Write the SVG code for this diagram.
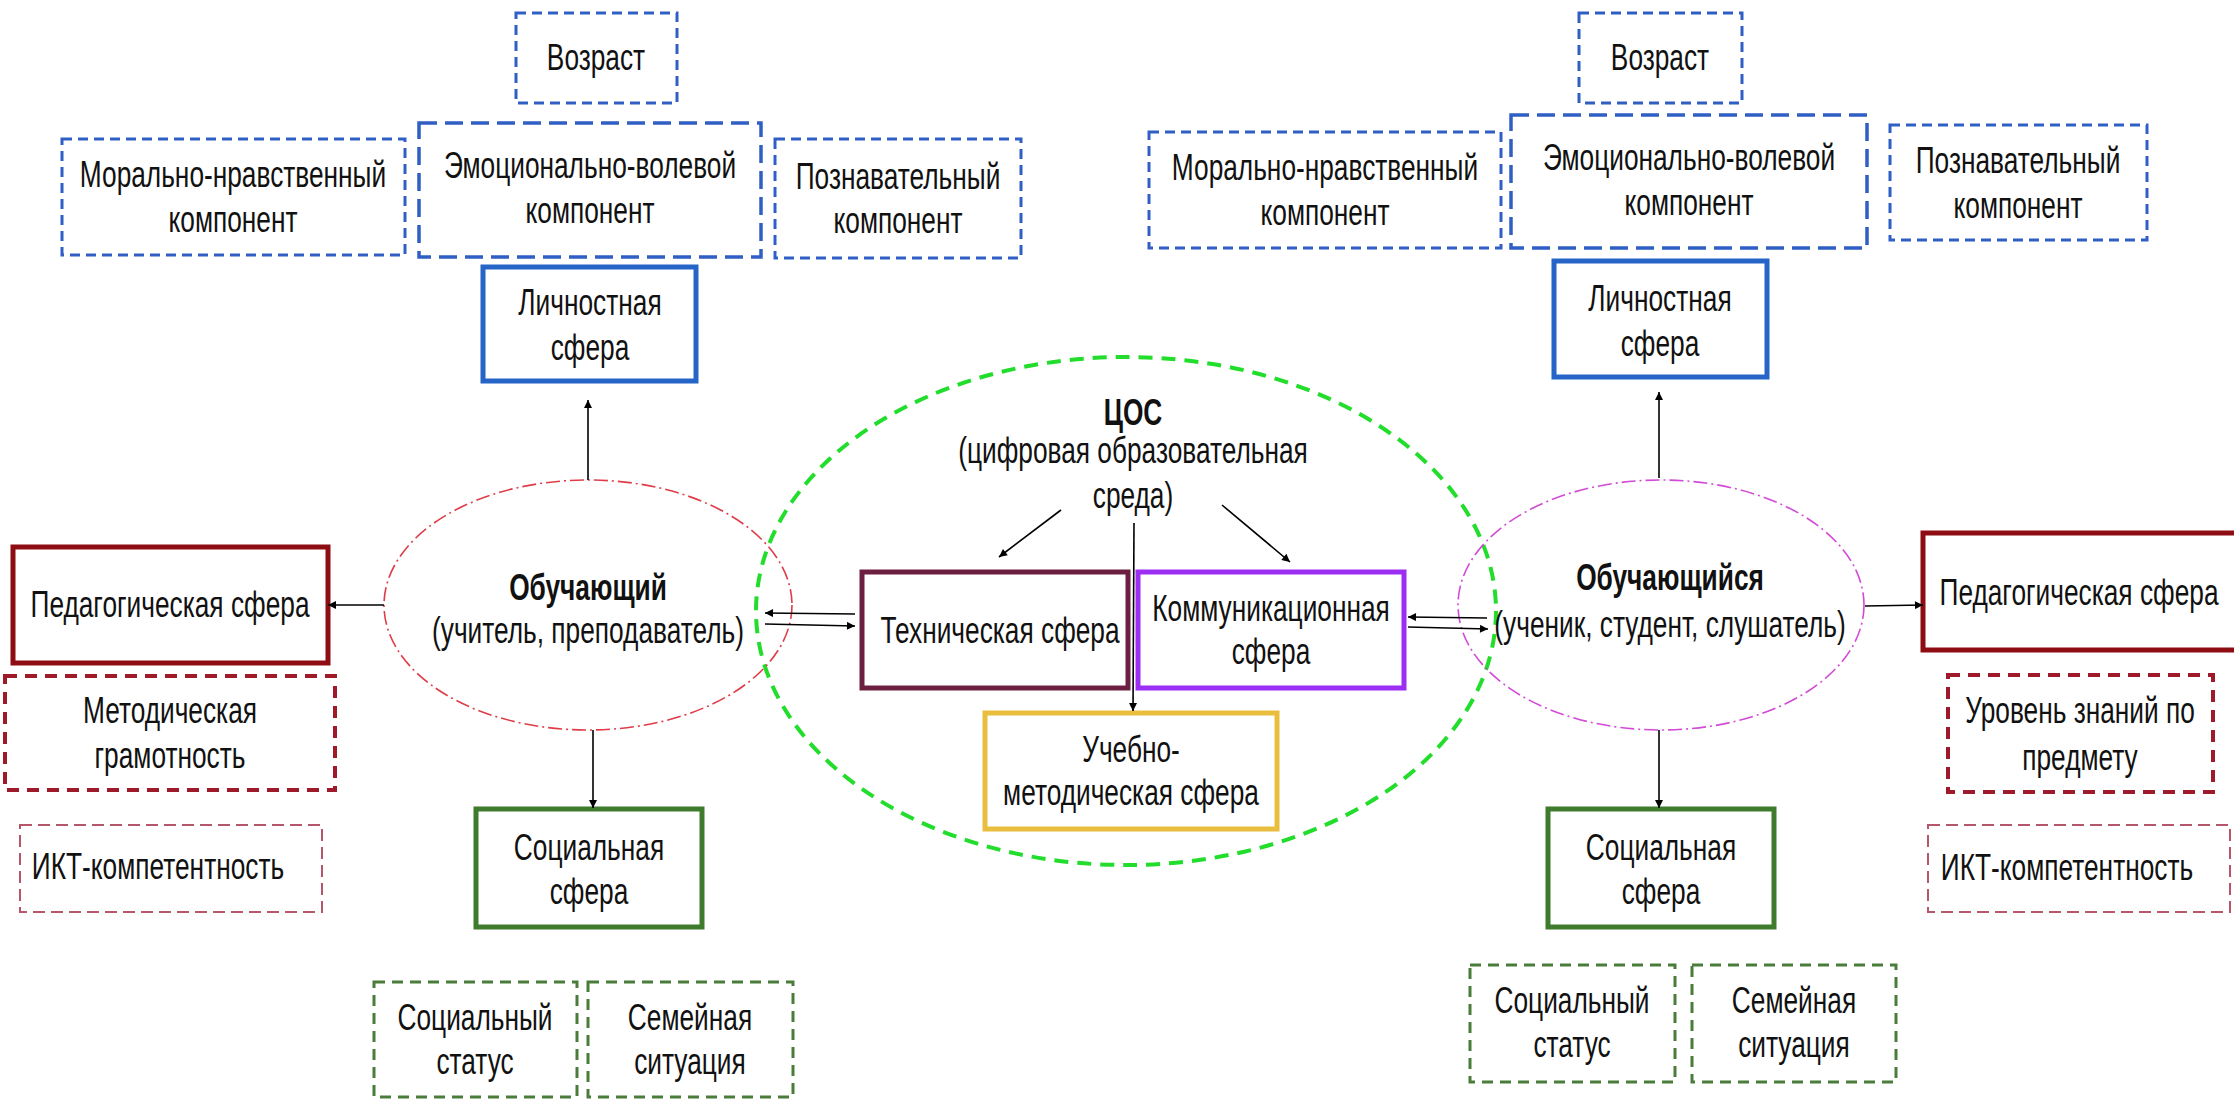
<svg xmlns="http://www.w3.org/2000/svg" width="2234" height="1099" viewBox="0 0 2234 1099">
<defs>
<marker id="ah" viewBox="0 0 10 10" refX="10" refY="5" markerWidth="10" markerHeight="8" markerUnits="userSpaceOnUse" orient="auto">
<path d="M0,0 L10,5 L0,10 z" fill="#000"/>
</marker>
<style>
text{font-family:"Liberation Sans",Arial,sans-serif;font-size:36.5px;fill:#111;text-anchor:middle}
.b{font-weight:bold}
.blueD{fill:#fff;stroke:#2f5fc4;stroke-width:3;stroke-dasharray:10 6}
.blueD2{fill:#fff;stroke:#2f5fc4;stroke-width:3.5;stroke-dasharray:18 8}
.blueS{fill:#fff;stroke:#2764c8;stroke-width:5}
.redS{fill:#fff;stroke:#8e0d12;stroke-width:5}
.redD{fill:#fff;stroke:#9e1a2a;stroke-width:4;stroke-dasharray:12 8}
.redT{fill:#fff;stroke:#b5566a;stroke-width:2;stroke-dasharray:12 6}
.greenS{fill:#fff;stroke:#3f7b2c;stroke-width:5}
.greenD{fill:#fff;stroke:#4b7d3a;stroke-width:3;stroke-dasharray:11 7}
.tech{fill:#fff;stroke:#6d1f42;stroke-width:5}
.comm{fill:#fff;stroke:#9b2ef2;stroke-width:5}
.yel{fill:#fff;stroke:#e9be3f;stroke-width:5}
.ln{stroke:#000;stroke-width:1.6;fill:none;marker-end:url(#ah)}
</style>
</defs>
<rect width="2234" height="1099" fill="#fff"/>

<g id="cos-area">
<ellipse cx="1126" cy="611" rx="370" ry="254" fill="none" stroke="#22dd2c" stroke-width="4" stroke-dasharray="14 9"/>
</g>
<g id="teacher">
<ellipse cx="588" cy="605" rx="204" ry="125" fill="none" stroke="#de3d48" stroke-width="1.6" stroke-dasharray="14 4 2 4"/>
<text class="b" transform="translate(588 0) scale(.72 1)"><tspan x="0" y="600">Обучающий</tspan></text>
<text transform="translate(588 0) scale(.72 1)"><tspan x="0" y="643">(учитель, преподаватель)</tspan></text>
</g>
<g id="student">
<ellipse cx="1661" cy="605" rx="203" ry="125" fill="none" stroke="#d24ad6" stroke-width="1.6" stroke-dasharray="14 4 2 4"/>
<text class="b" transform="translate(1670 0) scale(.72 1)"><tspan x="0" y="590">Обучающийся</tspan></text>
<text transform="translate(1670 0) scale(.72 1)"><tspan x="0" y="637">(ученик, студент, слушатель)</tspan></text>
</g>
<g id="cos-label">
<text class="b" transform="translate(1133 0) scale(.72 1)"><tspan x="0" y="425">ЦОС</tspan></text>
<text transform="translate(1133 0) scale(.72 1)"><tspan x="0" y="463">(цифровая образовательная</tspan><tspan x="0" y="508">среда)</tspan></text>
</g>

<g id="age-l"><rect class="blueD" x="516" y="13" width="161" height="90"/>
<text transform="translate(596 0) scale(.72 1)"><tspan x="0" y="70">Возраст</tspan></text></g>
<g id="moral-l"><rect class="blueD" x="62" y="139" width="343" height="116"/>
<text transform="translate(233 0) scale(.72 1)"><tspan x="0" y="187">Морально-нравственный</tspan><tspan x="0" y="232">компонент</tspan></text></g>
<g id="emo-l"><rect class="blueD2" x="419" y="123" width="342" height="134"/>
<text transform="translate(590 0) scale(.72 1)"><tspan x="0" y="178">Эмоционально-волевой</tspan><tspan x="0" y="223">компонент</tspan></text></g>
<g id="cog-l"><rect class="blueD" x="775" y="139" width="246" height="119"/>
<text transform="translate(898 0) scale(.72 1)"><tspan x="0" y="189">Познавательный</tspan><tspan x="0" y="233">компонент</tspan></text></g>
<g id="pers-l"><rect class="blueS" x="483" y="267" width="213" height="114"/>
<text transform="translate(590 0) scale(.72 1)"><tspan x="0" y="315">Личностная</tspan><tspan x="0" y="360">сфера</tspan></text></g>

<g id="age-r"><rect class="blueD" x="1579" y="13" width="163" height="90"/>
<text transform="translate(1660 0) scale(.72 1)"><tspan x="0" y="70">Возраст</tspan></text></g>
<g id="moral-r"><rect class="blueD" x="1149" y="132" width="352" height="116"/>
<text transform="translate(1325 0) scale(.72 1)"><tspan x="0" y="180">Морально-нравственный</tspan><tspan x="0" y="225">компонент</tspan></text></g>
<g id="emo-r"><rect class="blueD2" x="1511" y="115" width="356" height="133"/>
<text transform="translate(1689 0) scale(.72 1)"><tspan x="0" y="170">Эмоционально-волевой</tspan><tspan x="0" y="215">компонент</tspan></text></g>
<g id="cog-r"><rect class="blueD" x="1890" y="125" width="257" height="115"/>
<text transform="translate(2018 0) scale(.72 1)"><tspan x="0" y="173">Познавательный</tspan><tspan x="0" y="218">компонент</tspan></text></g>
<g id="pers-r"><rect class="blueS" x="1554" y="261" width="213" height="116"/>
<text transform="translate(1660 0) scale(.72 1)"><tspan x="0" y="311">Личностная</tspan><tspan x="0" y="356">сфера</tspan></text></g>

<g id="ped-l"><rect class="redS" x="13" y="547" width="315" height="116"/>
<text transform="translate(170 0) scale(.72 1)"><tspan x="0" y="617">Педагогическая сфера</tspan></text></g>
<g id="method"><rect class="redD" x="5" y="676" width="330" height="114"/>
<text transform="translate(170 0) scale(.72 1)"><tspan x="0" y="723">Методическая</tspan><tspan x="0" y="768">грамотность</tspan></text></g>
<g id="ict-l"><rect class="redT" x="20" y="825" width="302" height="87"/>
<text transform="translate(158 0) scale(.72 1)"><tspan x="0" y="879">ИКТ-компетентность</tspan></text></g>
<g id="soc-l"><rect class="greenS" x="476" y="809" width="226" height="118"/>
<text transform="translate(589 0) scale(.72 1)"><tspan x="0" y="860">Социальная</tspan><tspan x="0" y="904">сфера</tspan></text></g>
<g id="status-l"><rect class="greenD" x="374" y="982" width="203" height="115"/>
<text transform="translate(475 0) scale(.72 1)"><tspan x="0" y="1030">Социальный</tspan><tspan x="0" y="1074">статус</tspan></text></g>
<g id="family-l"><rect class="greenD" x="588" y="982" width="205" height="115"/>
<text transform="translate(690 0) scale(.72 1)"><tspan x="0" y="1030">Семейная</tspan><tspan x="0" y="1074">ситуация</tspan></text></g>

<g id="tech"><rect class="tech" x="862" y="572" width="266" height="116"/>
<text transform="translate(1000 0) scale(.72 1)"><tspan x="0" y="643">Техническая сфера</tspan></text></g>
<g id="comm"><rect class="comm" x="1138" y="572" width="266" height="116"/>
<text transform="translate(1271 0) scale(.72 1)"><tspan x="0" y="621">Коммуникационная</tspan><tspan x="0" y="664">сфера</tspan></text></g>
<g id="edu"><rect class="yel" x="985" y="713" width="292" height="116"/>
<text transform="translate(1131 0) scale(.72 1)"><tspan x="0" y="762">Учебно-</tspan><tspan x="0" y="805">методическая сфера</tspan></text></g>

<g id="ped-r"><rect class="redS" x="1923" y="533" width="320" height="117"/>
<text transform="translate(2079 0) scale(.72 1)"><tspan x="0" y="605">Педагогическая сфера</tspan></text></g>
<g id="level"><rect class="redD" x="1948" y="675" width="265" height="117"/>
<text transform="translate(2080 0) scale(.72 1)"><tspan x="0" y="723">Уровень знаний по</tspan><tspan x="0" y="770">предмету</tspan></text></g>
<g id="ict-r"><rect class="redT" x="1928" y="825" width="302" height="87"/>
<text transform="translate(2067 0) scale(.72 1)"><tspan x="0" y="880">ИКТ-компетентность</tspan></text></g>
<g id="soc-r"><rect class="greenS" x="1548" y="809" width="226" height="118"/>
<text transform="translate(1661 0) scale(.72 1)"><tspan x="0" y="860">Социальная</tspan><tspan x="0" y="904">сфера</tspan></text></g>
<g id="status-r"><rect class="greenD" x="1470" y="965" width="205" height="117"/>
<text transform="translate(1572 0) scale(.72 1)"><tspan x="0" y="1013">Социальный</tspan><tspan x="0" y="1057">статус</tspan></text></g>
<g id="family-r"><rect class="greenD" x="1692" y="965" width="204" height="117"/>
<text transform="translate(1794 0) scale(.72 1)"><tspan x="0" y="1013">Семейная</tspan><tspan x="0" y="1057">ситуация</tspan></text></g>

<g id="connectors">
<line class="ln" x1="588" y1="480" x2="588" y2="400"/>
<line class="ln" x1="593" y1="730" x2="593" y2="808"/>
<line class="ln" x1="384" y1="605" x2="328" y2="605"/>
<line class="ln" x1="855" y1="614" x2="765" y2="613"/>
<line class="ln" x1="765" y1="624" x2="855" y2="626"/>
<line class="ln" x1="1061" y1="510" x2="999" y2="557"/>
<line class="ln" x1="1222" y1="505" x2="1290" y2="562"/>
<line class="ln" x1="1134" y1="523" x2="1133" y2="711"/>
<line class="ln" x1="1487" y1="618" x2="1408" y2="617"/>
<line class="ln" x1="1408" y1="627" x2="1488" y2="629"/>
<line class="ln" x1="1659" y1="478" x2="1659" y2="392"/>
<line class="ln" x1="1659" y1="730" x2="1659" y2="808"/>
<line class="ln" x1="1865" y1="606" x2="1923" y2="605"/>
</g>
</svg>
